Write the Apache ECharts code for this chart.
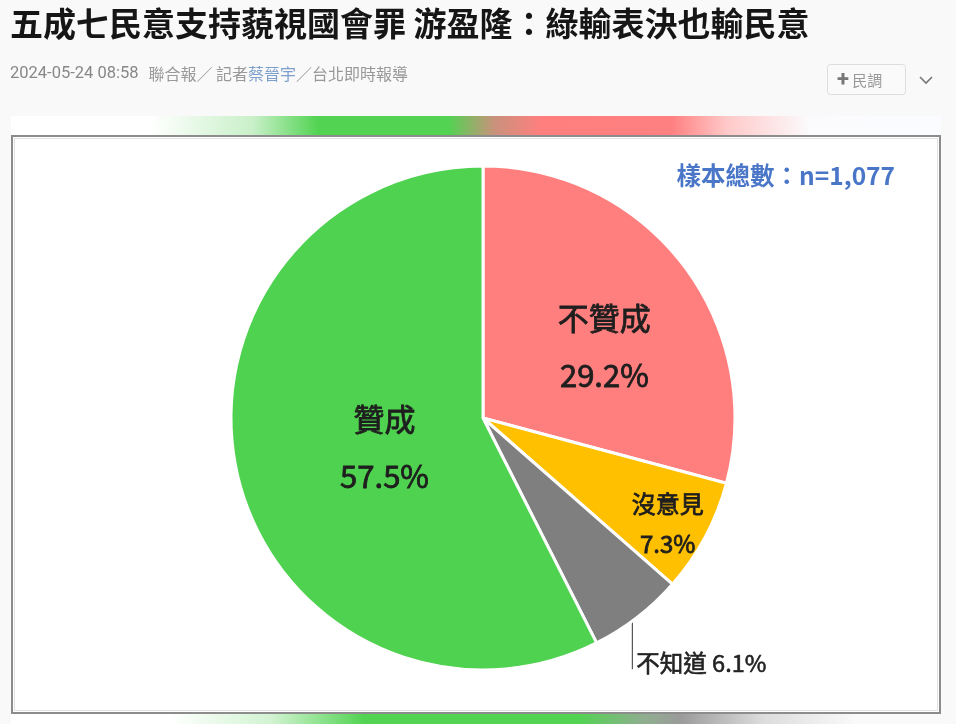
<!DOCTYPE html>
<html>
<head>
<meta charset="utf-8">
<script src="https://cdn.jsdelivr.net/npm/echarts@6/dist/echarts.min.js"></script>
<style>
  html, body { margin: 0; padding: 0; background: #f9f9f9; }
  #chart { width: 956px; height: 724px; }
</style>
</head>
<body>
<div id="chart"></div>
<script>
// Poll result: 藐視國會罪 support
const categories = ['不贊成', '沒意見', '不知道', '贊成'];
const shares = [29.2, 7.3, 6.1, 57.5];
const sampleSize = '1,077';

const headline = '五成七民意支持藐視國會罪 游盈隆：綠輸表決也輸民意';
const metaDate = '2024-05-24 08:58';
const metaSource = '聯合報／ 記者';
const metaReporter = '蔡晉宇';
const metaPlace = '／台北即時報導';

const sliceColors = {
  '不贊成': '#ff7f7f',
  '沒意見': '#ffc000',
  '不知道': '#7f7f7f',
  '贊成': '#50d251'
};

const CJK = '"Noto Sans CJK TC", "Noto Sans", sans-serif';
const pieCenter = [483, 418];
const pieRadius = 252;
const total = shares.reduce((a, b) => a + b, 0);

// point on the pie rim at the middle of slice i (clockwise from 12 o'clock)
function rimPoint(i) {
  let before = 0;
  for (let k = 0; k < i; k++) before += shares[k];
  const a = (before + shares[i] / 2) / total * Math.PI * 2;
  return [pieCenter[0] + pieRadius * Math.sin(a), pieCenter[1] - pieRadius * Math.cos(a)];
}

// label nudges for the inside labels
const labelShift = {
  '不贊成': [19, 7],
  '沒意見': [71, 45],
  '贊成': [27, 0]
};

const bigLabel = { fontSize: 31, lineHeight: 57 };
const midLabel = { fontSize: 24, lineHeight: 40 };
const inkColor = '#1e1e1e';

const pieData = categories.map((name, i) => {
  const item = { name, value: shares[i], itemStyle: { color: sliceColors[name] } };
  if (name === '不知道') {
    item.label = {
      position: 'outside', formatter: '{b} {c}%', fontSize: 23.5,
      color: '#222', fontFamily: CJK,
      textBorderColor: '#222', textBorderWidth: 0.6
    };
    item.labelLine = { show: true, lineStyle: { color: '#333', width: 1 } };
  } else {
    const s = name === '沒意見' ? midLabel : bigLabel;
    item.label = {
      position: 'inside', formatter: '{b}\n{c}%',
      fontSize: s.fontSize, lineHeight: s.lineHeight,
      color: inkColor, fontFamily: CJK,
      textBorderColor: inkColor, textBorderWidth: 0.8
    };
    item.labelLine = { show: false };
  }
  return item;
});

const chart = echarts.init(document.getElementById('chart'), null, { renderer: 'canvas' });

const option = {
  backgroundColor: '#f9f9f9',
  animation: false,
  title: [
    {
      text: headline, left: 10, top: 1, padding: 0,
      textStyle: { fontSize: 33, fontWeight: 'bold', color: '#161616', fontFamily: CJK, lineHeight: 44 }
    },
    {
      text: '{d|' + metaDate + '}  {g|' + metaSource + '}{b|' + metaReporter + '}{g|' + metaPlace + '}',
      left: 10, top: 63, padding: 0,
      textStyle: {
        lineHeight: 22, fontWeight: 'normal',
        rich: {
          d: { fontSize: 16.5, fontWeight: 'normal', color: '#888', fontFamily: 'Roboto, "Noto Sans CJK TC", sans-serif', lineHeight: 22 },
          g: { fontSize: 16, fontWeight: 'normal', color: '#999', fontFamily: CJK, lineHeight: 22 },
          b: { fontSize: 16, fontWeight: 'normal', color: '#7d9fcc', fontFamily: CJK, lineHeight: 22 }
        }
      }
    },
    {
      text: '樣本總數：n=' + sampleSize, right: 61, top: 161, padding: 0,
      textStyle: { fontSize: 24.5, fontWeight: 'bold', color: '#4a76c8', fontFamily: CJK, lineHeight: 30 }
    }
  ],
  graphic: [
    // top colour band
    {
      type: 'rect', z: 0, silent: true,
      shape: { x: 11, y: 116, width: 930, height: 20 },
      style: {
        fill: new echarts.graphic.LinearGradient(0, 0, 1, 0, [
          { offset: 0, color: '#ffffff' },
          { offset: 0.15, color: '#ffffff' },
          { offset: 0.26, color: '#c9f0c9' },
          { offset: 0.33, color: '#52d352' },
          { offset: 0.47, color: '#52d352' },
          { offset: 0.52, color: '#c9917b' },
          { offset: 0.57, color: '#ff7f7f' },
          { offset: 0.71, color: '#ff8080' },
          { offset: 0.77, color: '#ffc9c9' },
          { offset: 0.86, color: '#fbfbfd' },
          { offset: 1, color: '#fafcff' }
        ])
      }
    },
    // framed chart panel
    {
      type: 'rect', z: 0, silent: true,
      shape: { x: 12, y: 136, width: 928, height: 577 },
      style: { fill: '#ffffff', stroke: '#8c8c8c', lineWidth: 2 }
    },
    {
      type: 'rect', z: 0, silent: true,
      shape: { x: 14.5, y: 138.5, width: 923, height: 572 },
      style: { fill: 'none', stroke: '#e2e2e2', lineWidth: 1 }
    },
    // bottom colour band
    {
      type: 'rect', z: 0, silent: true,
      shape: { x: 11, y: 714, width: 930, height: 10 },
      style: {
        fill: new echarts.graphic.LinearGradient(0, 0, 1, 0, [
          { offset: 0, color: '#ffffff' },
          { offset: 0.17, color: '#ffffff' },
          { offset: 0.28, color: '#d2f3d2' },
          { offset: 0.38, color: '#52d352' },
          { offset: 0.61, color: '#52d352' },
          { offset: 0.68, color: '#8fae8f' },
          { offset: 0.72, color: '#9b9b9b' },
          { offset: 0.81, color: '#dddddd' },
          { offset: 0.91, color: '#fafafa' },
          { offset: 1, color: '#fafafa' }
        ])
      }
    },
    // "+ 民調" button
    {
      type: 'rect', z: 1, silent: true,
      shape: { x: 827.5, y: 64.5, width: 78, height: 30, r: 3 },
      style: { fill: '#fafafa', stroke: '#dddddd', lineWidth: 1 }
    },
    {
      type: 'text', z: 2, silent: true, x: 837, y: 80,
      style: {
        text: '{p|+} {t|民調}', verticalAlign: 'middle',
        rich: {
          p: { fontSize: 22, fontWeight: 'bold', fill: '#777', fontFamily: 'Roboto, sans-serif' },
          t: { fontSize: 15, fill: '#999', fontFamily: CJK }
        }
      }
    },
    // dropdown chevron
    {
      type: 'polyline', z: 2, silent: true,
      shape: { points: [[920, 77], [926, 83], [932, 77]] },
      style: { stroke: '#777', lineWidth: 1.6, fill: 'none' }
    }
  ],
  series: [
    {
      type: 'pie',
      center: pieCenter,
      radius: pieRadius,
      startAngle: 90,
      clockwise: true,
      avoidLabelOverlap: false,
      itemStyle: { borderColor: '#ffffff', borderWidth: 3 },
      emphasis: { disabled: true },
      data: pieData,
      labelLayout: function (params) {
        const name = categories[params.dataIndex];
        if (name === '不知道') {
          const p = rimPoint(params.dataIndex);
          const lx = p[0] - 5, ly = p[1] + 2;
          return {
            x: lx + 4, y: ly + 44, align: 'left', verticalAlign: 'middle',
            labelLinePoints: [[lx, ly], [lx, ly + 50]]
          };
        }
        const s = labelShift[name];
        return { dx: s[0], dy: s[1] };
      }
    }
  ]
};

chart.setOption(option);
</script>
</body>
</html>
